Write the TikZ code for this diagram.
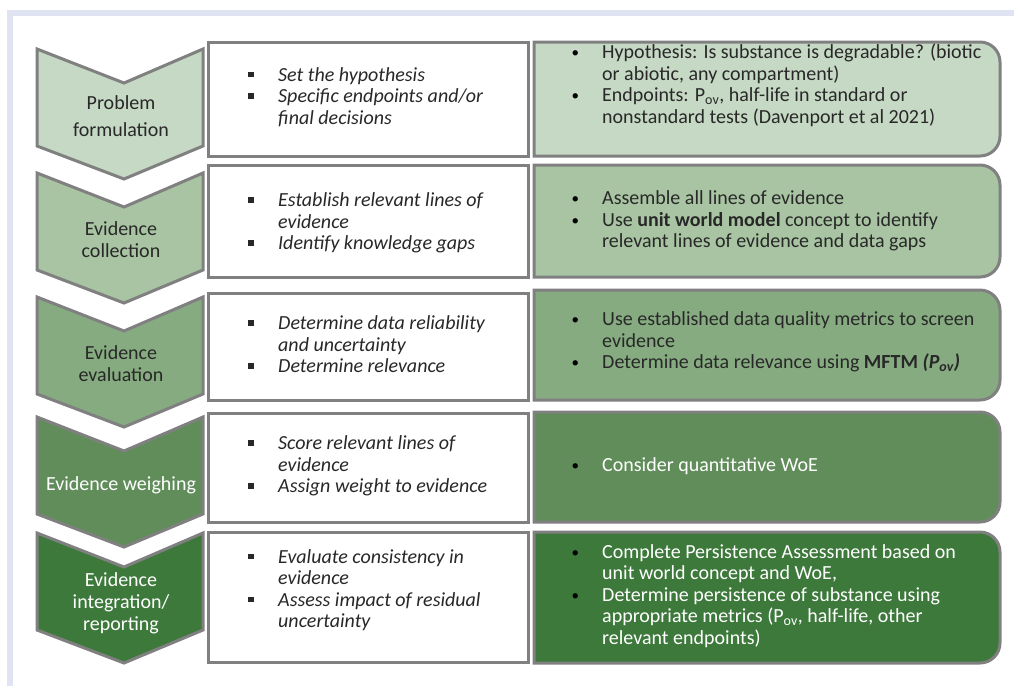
\documentclass[tikz,border=0pt]{standalone}
\usepackage{fontspec}
\setmainfont{Carlito}
\definecolor{frameC}{RGB}{223,227,242}
\definecolor{bordC}{RGB}{128,128,128}
\definecolor{gA}{RGB}{198,217,196}
\definecolor{gB}{RGB}{168,196,162}
\definecolor{gC}{RGB}{134,171,128}
\definecolor{gD}{RGB}{96,141,90}
\definecolor{gE}{RGB}{61,121,59}
\definecolor{txt}{RGB}{40,40,40}
\newcommand\sqi{\makebox[30pt][l]{\rule[4pt]{5.5pt}{5.5pt}}}
\newcommand\sqn{\hspace*{30pt}}
\newcommand\rdi{\makebox[32pt][l]{\hspace*{1.5pt}\color{black}\fontsize{15}{15}\selectfont\raisebox{1pt}{\textbullet}}}
\newcommand\rdn{\hspace*{32pt}}
\newcommand\chevshape[2]{%
  \draw[chev, fill=#2] (37,#1) -- (124,{#1+34}) -- (203,#1) -- (203,{#1+97}) -- (124,{#1+130}) -- (37,{#1+97}) -- cycle;}
\newcommand\rightshape[3]{%
  \draw[rbx, fill=#3] (534,#1) -- (980,#1) .. controls (991,#1) and (1000,{#1+9}) .. (1000,{#1+20})
   -- (1000,{#2-20}) .. controls (1000,{#2-9}) and (991,#2) .. (980,#2) -- (534,#2) -- cycle;}
\tikzset{
  chev/.style={draw=bordC, line width=3pt, line join=miter},
  mbox/.style={draw=bordC, line width=3pt, fill=white},
  rbx/.style={draw=bordC, line width=3pt},
  ctext/.style={font=\fontsize{20}{22}\selectfont, align=center, inner sep=0pt},
  mtext/.style={font=\fontsize{20}{21.5}\selectfont\itshape, anchor=west, inner sep=0pt, text=txt},
  rtext/.style={font=\fontsize{20}{21.5}\selectfont, anchor=west, inner sep=0pt},
}
\begin{document}
\begin{tikzpicture}[x=1pt,y=-1pt]
\fill[white] (0,0) rectangle (1014,686);
\useasboundingbox (0,0) rectangle (1014,686);
\draw[frameC, line width=6pt] (1014,13) -- (10,13) -- (10,686);

% chevrons
\chevshape{49}{gA}
\chevshape{173}{gB}
\chevshape{297}{gC}
\chevshape{417}{gD}
\chevshape{533}{gE}
\node[ctext, text=txt, font=\fontsize{20}{27}\selectfont] (c1) at (121,116.5) {Problem\\formulation};
\node[ctext, text=txt] (c2) at (121,240) {Evidence\\collection};
\node[ctext, text=txt] (c3) at (121,364) {Evidence\\evaluation};
\node[ctext, text=white] (c4) at (121,485) {Evidence weighing};
\node[ctext, text=white] (c5) at (121,603) {Evidence\\integration/\\reporting};

% middle boxes
\draw[mbox] (208,42) rectangle (528,156);
\draw[mbox] (208,165) rectangle (528,277);
\draw[mbox] (208,293) rectangle (528,400);
\draw[mbox] (208,413) rectangle (528,522);
\draw[mbox] (208,532) rectangle (528,662);
\node[mtext] (m1) at (248,98.5) {\begin{tabular}{@{}l@{}}
\sqi Set the hypothesis\\
\sqi Specific endpoints and/or\\
\sqn final decisions\end{tabular}};
\node[mtext] (m2) at (248,224) {\begin{tabular}{@{}l@{}}
\sqi Establish relevant lines of\\
\sqn evidence\\
\sqi Identify knowledge gaps\end{tabular}};
\node[mtext] (m3) at (248,347) {\begin{tabular}{@{}l@{}}
\sqi Determine data reliability\\
\sqn and uncertainty\\
\sqi Determine relevance\end{tabular}};
\node[mtext] (m4) at (248,467) {\begin{tabular}{@{}l@{}}
\sqi Score relevant lines of\\
\sqn evidence\\
\sqi Assign weight to evidence\end{tabular}};
\node[mtext] (m5) at (248,591) {\begin{tabular}{@{}l@{}}
\sqi Evaluate consistency in\\
\sqn evidence\\
\sqi Assess impact of residual\\
\sqn uncertainty\end{tabular}};

% right boxes
\rightshape{42}{156}{gA}
\rightshape{165}{277}{gB}
\rightshape{290}{400}{gC}
\rightshape{412}{522}{gD}
\rightshape{532}{663}{gE}
\node[rtext, text=txt] (r1) at (570,86.5) {\begin{tabular}{@{}l@{}}
\rdi Hypothesis: Is substance is degradable? (biotic\\
\rdn or abiotic, any compartment)\\
\rdi Endpoints: P\textsubscript{ov}, half-life in standard or\\
\rdn nonstandard tests (Davenport et al 2021)\end{tabular}};
\node[rtext, text=txt] (r2) at (570,222) {\begin{tabular}{@{}l@{}}
\rdi Assemble all lines of evidence\\
\rdi Use \textbf{unit world model} concept to identify\\
\rdn relevant lines of evidence and data gaps\end{tabular}};
\node[rtext, text=txt] (r3) at (570,343) {\begin{tabular}{@{}l@{}}
\rdi Use established data quality metrics to screen\\
\rdn evidence\\
\rdi Determine data relevance using \textbf{MFTM \textit{(P\textsubscript{ov})}}\end{tabular}};
\node[rtext, text=white] (r4) at (570,467) {\begin{tabular}{@{}l@{}}
\rdi Consider quantitative WoE\end{tabular}};
\node[rtext, text=white] (r5) at (570,597) {\begin{tabular}{@{}l@{}}
\rdi Complete Persistence Assessment based on\\
\rdn unit world concept and WoE,\\
\rdi Determine persistence of substance using\\
\rdn appropriate metrics (P\textsubscript{ov}, half-life, other\\
\rdn relevant endpoints)\end{tabular}};
\end{tikzpicture}
\end{document}
